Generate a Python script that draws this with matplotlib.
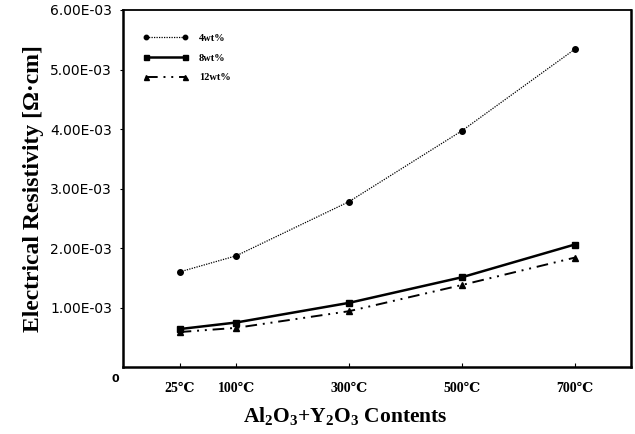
import matplotlib
matplotlib.use('Agg')
import matplotlib.pyplot as plt
import numpy as np

# categories (temperatures) and their slot positions on the x axis
temps = ['25℃', '100℃', '300℃', '500℃', '700℃']
temp_pos = [0.5, 1, 2, 3, 4]

# resistivity values, ohm*cm
res_4wt = [1.60e-3, 1.87e-3, 2.78e-3, 3.97e-3, 5.34e-3]
res_8wt = [0.64e-3, 0.75e-3, 1.08e-3, 1.51e-3, 2.06e-3]
res_12wt = [0.59e-3, 0.66e-3, 0.94e-3, 1.38e-3, 1.84e-3]

yticks = [1e-3, 2e-3, 3e-3, 4e-3, 5e-3, 6e-3]
ytick_labels = ['1.00E-03', '2.00E-03', '3.00E-03', '4.00E-03', '5.00E-03', '6.00E-03']

serif = ['Liberation Serif', 'DejaVu Serif']
sans = ['DejaVu Sans']

# bold serif for the subscripted axis label
plt.rcParams['mathtext.fontset'] = 'custom'
plt.rcParams['mathtext.rm'] = 'Liberation Serif:bold'
plt.rcParams['mathtext.it'] = 'Liberation Serif:bold'
plt.rcParams['mathtext.bf'] = 'Liberation Serif:bold'

fig = plt.figure(figsize=(6.35, 4.34), dpi=100)
ax = fig.add_axes([0.194, 0.154, 0.800, 0.823])

ax.plot(temp_pos, res_4wt, color='black', linestyle=(0, (1, 1)), linewidth=0.9,
        marker='o', markersize=4, label='4wt%')
ax.plot(temp_pos, res_8wt, color='black', linestyle='-', linewidth=1.8,
        marker='s', markersize=4.5, label='8wt%')
ax.plot(temp_pos, res_12wt, color='black', linestyle=(0, (6, 3, 1, 3, 1, 3)), linewidth=1.4,
        marker='^', markersize=4.5, label='12wt%')

ax.set_xlim(0, 4.5)
ax.set_ylim(0, 6e-3)

ax.set_xticks(temp_pos)
ax.set_xticklabels(temps, family=serif, fontweight='bold', fontsize=10)
ax.set_yticks(yticks)
ax.set_yticklabels(ytick_labels, family=sans, fontsize=10)
ax.tick_params(axis='x', direction='in', length=3, pad=11)
ax.tick_params(axis='y', direction='out', length=2, pad=6)

# lone zero at the corner
ax.text(-0.04, -0.12e-3, '0', transform=ax.transData, ha='right', va='top',
        family=sans, fontsize=8, fontweight='bold')

for s in ax.spines.values():
    s.set_linewidth(1.8)
ax.spines['top'].set_linewidth(1.3)

ax.set_ylabel('Electrical Resistivity [Ω·cm]', family=serif, fontweight='bold',
              fontsize=17)
ax.yaxis.set_label_coords(-0.155, 0.5)
ax.set_xlabel('Al$_2$O$_3$+Y$_2$O$_3$ Contents', family=serif, fontweight='bold',
              fontsize=15.5)
ax.xaxis.set_label_coords(0.437, -0.105)

ax.legend(loc='upper left', bbox_to_anchor=(0.02, 0.96), frameon=False,
          numpoints=2, handlelength=4.4, handletextpad=1.0, labelspacing=1.0,
          markerscale=0.8,
          prop={'family': serif, 'weight': 'bold', 'size': 7.5})

fig.savefig('out.png', dpi=100)
